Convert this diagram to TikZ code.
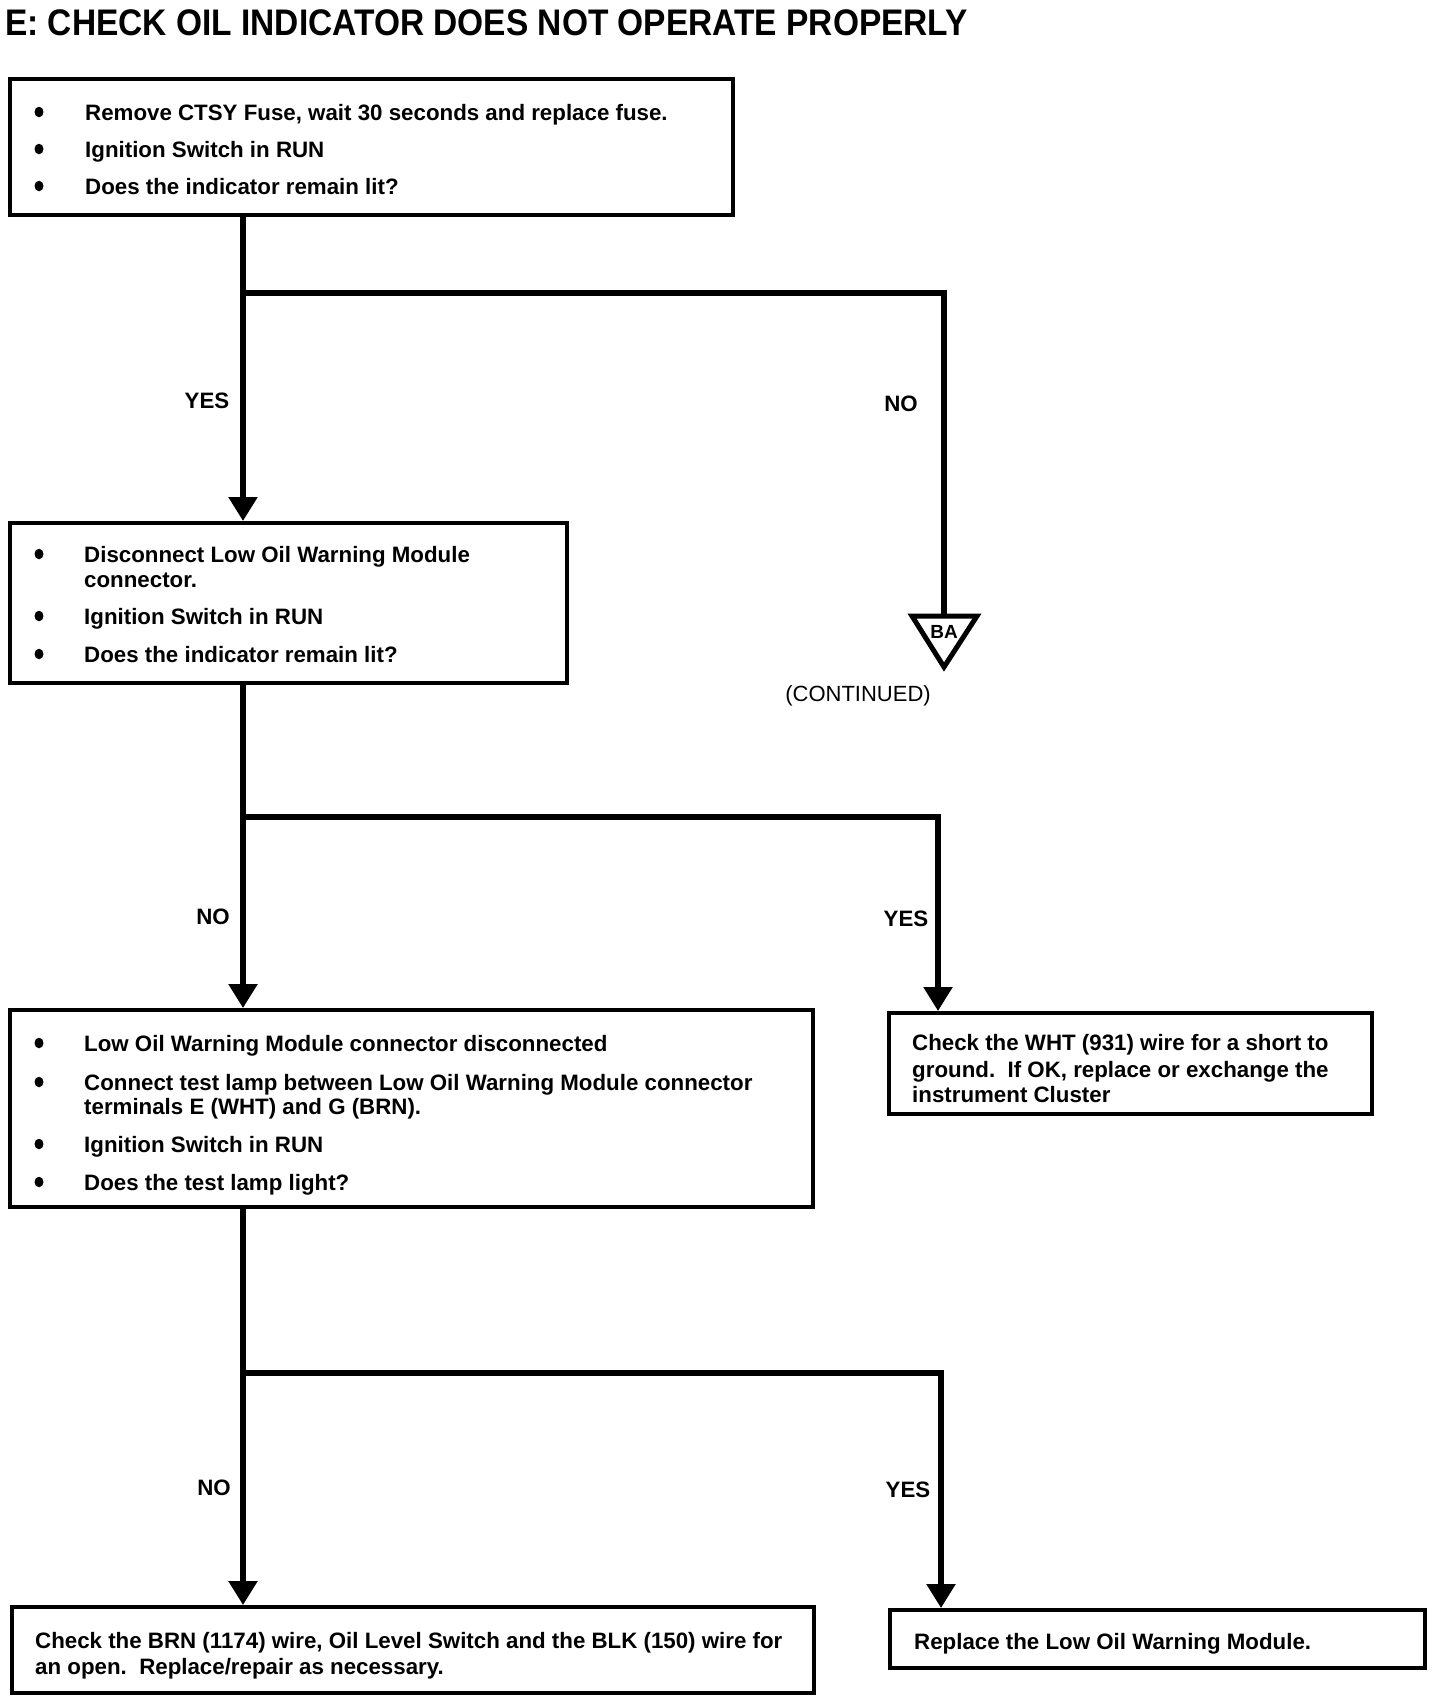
\documentclass[tikz,border=0pt]{standalone}
\usepackage{fontspec}
\setmainfont{Liberation Sans}
\newfontfamily\titlefont[FakeStretch=0.905]{Liberation Sans}
\usetikzlibrary{arrows.meta,shapes.geometric}
\begin{document}
\begin{tikzpicture}[x=1pt,y=-1pt,
  box/.style={draw, line width=3.5pt, inner sep=0, anchor=north west},
  txt/.style={anchor=base west, inner sep=0, font=\fontsize{22.3}{26}\selectfont\bfseries},
  lbl/.style={inner sep=0, font=\fontsize{22.3}{26}\selectfont\bfseries},
  bul/.style={fill, ellipse, inner sep=0, minimum width=9pt, minimum height=10.5pt},
  flow/.style={line width=5.5pt, line join=miter},
  arr/.style={flow, -{Triangle[width=28pt,length=24pt]}}
]
\useasboundingbox (0,0) rectangle (1440,1702);

% title
\node[anchor=base west, inner sep=0, font=\titlefont\fontsize{37}{42}\selectfont\bfseries] (title) at (5,36) {E: CHECK OIL INDICATOR DOES NOT OPERATE PROPERLY};

% boxes
\node[box, minimum width=723pt, minimum height=136pt] (b1) at (8,77) {};
\node[box, minimum width=557pt, minimum height=160pt] (b2) at (8,521) {};
\node[box, minimum width=803pt, minimum height=197pt] (b3) at (8,1008) {};
\node[box, minimum width=483pt, minimum height=101pt] (b4) at (887,1011) {};
\node[box, minimum width=802pt, minimum height=86pt] (b5) at (10,1605) {};
\node[box, minimum width=535pt, minimum height=58pt] (b6) at (888,1608) {};

% box 1 text
\node[bul] (b1d1) at (39,112) {};
\node[bul] (b1d2) at (39,149) {};
\node[bul] (b1d3) at (39,186) {};
\node[txt] (b1t1) at (85,120) {Remove CTSY Fuse, wait 30 seconds and replace fuse.};
\node[txt] (b1t2) at (85,157) {Ignition Switch in RUN};
\node[txt] (b1t3) at (85,194) {Does the indicator remain lit?};

% box 2 text
\node[bul] (b2d1) at (39,554) {};
\node[bul] (b2d2) at (39,616) {};
\node[bul] (b2d3) at (39,654) {};
\node[txt] (b2t1) at (84,562) {Disconnect Low Oil Warning Module};
\node[txt] (b2t1b) at (84,587) {connector.};
\node[txt] (b2t2) at (84,624) {Ignition Switch in RUN};
\node[txt] (b2t3) at (84,662) {Does the indicator remain lit?};

% box 3 text
\node[bul] (b3d1) at (39,1043) {};
\node[bul] (b3d2) at (39,1082) {};
\node[bul] (b3d3) at (39,1144) {};
\node[bul] (b3d4) at (39,1182) {};
\node[txt] (b3t1) at (84,1051) {Low Oil Warning Module connector disconnected};
\node[txt] (b3t2) at (84,1090) {Connect test lamp between Low Oil Warning Module connector};
\node[txt] (b3t2b) at (84,1114) {terminals E (WHT) and G (BRN).};
\node[txt] (b3t3) at (84,1152) {Ignition Switch in RUN};
\node[txt] (b3t4) at (84,1190) {Does the test lamp light?};

% box 4 text
\node[txt] (b4t1) at (912,1050) {Check the WHT (931) wire for a short to};
\node[txt] (b4t2) at (912,1077) {ground.\ \ If OK, replace or exchange the};
\node[txt] (b4t3) at (912,1102) {instrument Cluster};

% box 5 text
\node[txt] (b5t1) at (35,1648) {Check the BRN (1174) wire, Oil Level Switch and the BLK (150) wire for};
\node[txt] (b5t2) at (35,1674) {an open.\ \ Replace/repair as necessary.};

% box 6 text
\node[txt] (b6t1) at (914,1649) {Replace the Low Oil Warning Module.};

% continuation triangle
\coordinate (tt) at (944,616);
\draw[line width=5pt, line join=miter] (912,616) -- (977,616) -- (944,667) -- cycle;
\node[inner sep=0, font=\fontsize{19}{22}\selectfont\bfseries] (ba) at (944,632) {BA};
\node[inner sep=0, font=\fontsize{22}{26}\selectfont] (cont) at (858,696) {(CONTINUED)};

% junctions
\coordinate (j1) at (243,293);
\coordinate (j2) at (243,817);
\coordinate (j3) at (243,1373);
\coordinate (k2) at (938,817);
\coordinate (k3) at (941,1373);

% connectors
\draw[arr] (b1.south -| j1) -- (b2.north -| j1);
\draw[flow] (j1) -| (tt);
\draw[arr] (b2.south -| j2) -- (b3.north -| j2);
\draw[arr] (j2) -| (b4.north -| k2);
\draw[arr] (b3.south -| j3) -- (b5.north -| j3);
\draw[arr] (j3) -| (b6.north -| k3);

% labels
\node[lbl] (yes1) at (207,401) {YES};
\node[lbl] (no1) at (901,404) {NO};
\node[lbl] (no2) at (213,917) {NO};
\node[lbl] (yes2) at (906,919) {YES};
\node[lbl] (no3) at (214,1488) {NO};
\node[lbl] (yes3) at (908,1490) {YES};
\end{tikzpicture}
\end{document}
